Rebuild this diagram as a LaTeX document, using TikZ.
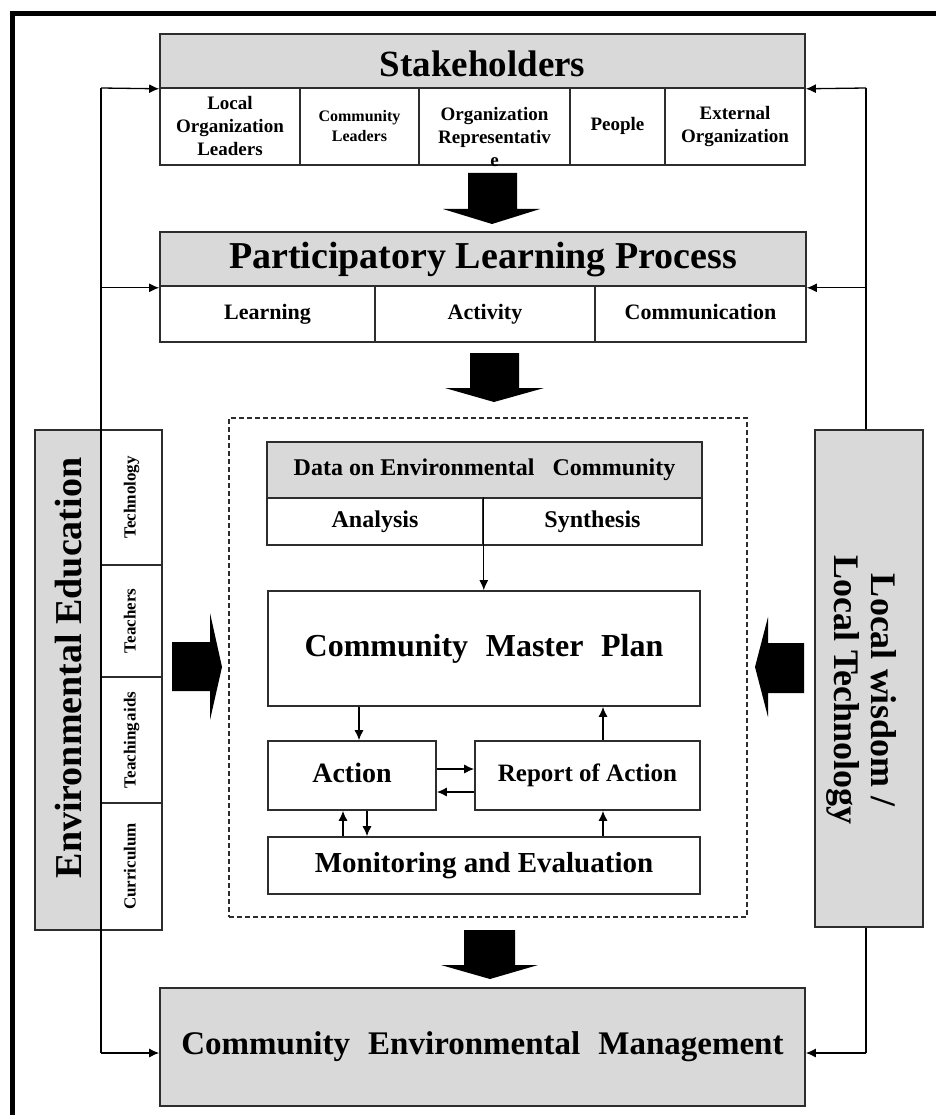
\documentclass[tikz,border=0pt]{standalone}
\usepackage{fontspec}
\setmainfont{Liberation Serif}
\usetikzlibrary{arrows.meta}
\definecolor{hdr}{RGB}{217,217,217}
\definecolor{edge}{RGB}{45,45,45}
\newcommand\myfs[2]{\fontsize{#1}{#2}\selectfont}
\begin{document}
\begin{tikzpicture}[x=1pt,y=-1pt,
  bx/.style={draw=edge, line width=1.6pt, inner sep=0pt, fill=white, font=\bfseries, align=center},
  gbx/.style={bx, fill=hdr},
  tb/.style={execute at begin node={\vphantom{Apgy}}},
  lbl/.style={inner sep=0pt, font=\bfseries, align=center},
  ln/.style={draw=black, line width=1.3pt},
  arr/.style={ln, -{Latex[length=10pt,width=9pt]}},
  blk/.style={fill=black}]
\useasboundingbox (0,0) rectangle (936,1115);
\fill[white] (0,0) rectangle (936,1115);
\draw[line width=5pt, line join=miter] (12,1115) -- (12,14) -- (936,14);

% Stakeholders
\node[gbx, minimum width=645pt, minimum height=54pt] (sh) at (482.5,61) {};
\node[lbl, anchor=base, font=\bfseries\myfs{37}{40}] (sht) at (482.5,77) {Stakeholders};
\node[bx, minimum width=140pt, minimum height=77pt, font=\bfseries\myfs{19}{23}] (s1) at (230,126.5) {Local\\Organization\\Leaders};
\node[bx, minimum width=119pt, minimum height=77pt, font=\bfseries\myfs{16}{20}] (s2) at (359.5,126.5) {Community\\Leaders};
\node[bx, minimum width=151pt, minimum height=77pt] (s3) at (494.5,126.5) {};
\node[lbl, font=\bfseries\myfs{19}{23}] (s3t) at (494.5,137) {Organization\\Representativ\\e};
\node[bx, tb, minimum width=95pt, minimum height=77pt, font=\bfseries\myfs{19}{23}] (s4) at (617.5,126.5) {People};
\node[bx, minimum width=140pt, minimum height=77pt, font=\bfseries\myfs{19}{23}] (s5) at (735,126.5) {External\\Organization};

% Participatory Learning Process
\node[gbx, tb, minimum width=646pt, minimum height=55pt, font=\bfseries\myfs{38}{42}] (plp) at (483,259.5) {Participatory Learning Process};
\node[bx, tb, minimum width=215pt, minimum height=56pt, font=\bfseries\myfs{22}{26}] (p1) at (267.5,314) {Learning};
\node[bx, tb, minimum width=220pt, minimum height=56pt, font=\bfseries\myfs{22}{26}] (p2) at (485,314) {Activity};
\node[bx, tb, minimum width=211pt, minimum height=56pt, font=\bfseries\myfs{22}{26}] (p3) at (700.5,314) {Communication};

% dashed frame
\node[draw=edge, line width=1.2pt, dash pattern=on 5pt off 3pt, minimum width=518pt, minimum height=499pt, inner sep=0pt] (dbox) at (488,667.5) {};

% inner boxes
\node[gbx, tb, minimum width=435pt, minimum height=56pt, font=\bfseries\myfs{24}{28}] (dh) at (484.5,470) {Data on Environmental\hspace{0.5em} Community};
\node[bx, tb, minimum width=216pt, minimum height=47pt, font=\bfseries\myfs{24}{28}] (da) at (375,521.5) {Analysis};
\node[bx, tb, minimum width=219pt, minimum height=47pt, font=\bfseries\myfs{24}{28}] (ds) at (592.5,521.5) {Synthesis};
\node[bx, tb, minimum width=432pt, minimum height=115pt, font=\bfseries\myfs{32}{36}] (cmp) at (484,648.5) {Community\hspace{0.3em} Master\hspace{0.3em} Plan};
\node[bx, tb, minimum width=168pt, minimum height=69pt, font=\bfseries\myfs{28}{32}] (act) at (352,775.5) {Action};
\node[bx, tb, minimum width=225pt, minimum height=69pt, font=\bfseries\myfs{25}{29}] (rep) at (587.5,775.5) {Report of Action};
\node[bx, tb, minimum width=432pt, minimum height=57pt, font=\bfseries\myfs{29}{33}] (mon) at (484,865.5) {Monitoring and Evaluation};

% inner arrows
\draw[arr] (da.north east) -- (da.north east |- cmp.north);
\coordinate (ca) at ([xshift=7pt]act.north);
\draw[arr] (ca |- cmp.south) -- (ca);
\coordinate (cr) at ([xshift=15.5pt]rep.north);
\draw[arr] (cr) -- (cr |- cmp.south);
\draw[arr] ([yshift=6.5pt]act.east) -- ([yshift=6.5pt]rep.west);
\draw[arr] ([yshift=-16.5pt]rep.west) -- ([yshift=-16.5pt]act.east);
\coordinate (m1) at ([xshift=-9pt]act.south);
\draw[arr] (m1 |- mon.north) -- (m1);
\coordinate (m2) at ([xshift=15pt]act.south);
\draw[arr] (m2) -- (m2 |- mon.north);
\coordinate (m3) at ([xshift=15.5pt]rep.south);
\draw[arr] (m3 |- mon.north) -- (m3);

% Environmental Education
\node[gbx, minimum width=66pt, minimum height=500pt] (ee) at (68,680) {};
\node[lbl, rotate=90, font=\bfseries\myfs{38}{42}] (eet) at (69,668) {Environmental Education};
\node[bx, minimum width=61pt, minimum height=135pt] (t1) at (131.5,497.5) {};
\node[bx, minimum width=61pt, minimum height=112pt] (t2) at (131.5,621) {};
\node[bx, minimum width=61pt, minimum height=126pt] (t3) at (131.5,740) {};
\node[bx, minimum width=61pt, minimum height=127pt] (t4) at (131.5,866.5) {};
\node[lbl, tb, rotate=90, font=\bfseries\myfs{17}{20}] (t1t) at (t1) {Technology};
\node[lbl, tb, rotate=90, font=\bfseries\myfs{17}{20}] (t2t) at (t2) {Teachers};
\node[lbl, tb, rotate=90, font=\bfseries\myfs{17}{20}] (t3t) at (t3) {Teaching\hspace{0.08em}aids};
\node[lbl, tb, rotate=90, font=\bfseries\myfs{17}{20}] (t4t) at (t4) {Curriculum};

% Local wisdom
\node[gbx, minimum width=108pt, minimum height=497pt] (lw) at (869,678.5) {};
\node[lbl, rotate=-90, font=\bfseries\myfs{36}{37}] (lwt) at (862,690) {Local wisdom /\\Local Technology};

% Community Environmental Management
\node[gbx, tb, minimum width=645pt, minimum height=118pt, font=\bfseries\myfs{33}{37}] (cem) at (482.5,1047) {Community\hspace{0.3em} Environmental\hspace{0.3em} Management};

% block arrows
\fill[blk] (468,173) -- (517,173) -- (517,209) -- (540,209) -- (492,224) -- (443,209) -- (468,209) -- cycle;
\fill[blk] (470,353) -- (519,353) -- (519,388) -- (544,388) -- (494,402) -- (445,388) -- (470,388) -- cycle;
\fill[blk] (464,930) -- (515,930) -- (515,965) -- (538,965) -- (490,979) -- (441,965) -- (464,965) -- cycle;
\fill[blk] (172,642) -- (210,642) -- (210,613) -- (222,667) -- (210,720) -- (210,691) -- (172,691) -- cycle;
\fill[blk] (804,643) -- (768,643) -- (768,617) -- (755,667) -- (768,717) -- (768,693) -- (804,693) -- cycle;

% feedback lines
\coordinate (Lt) at (101,88);
\coordinate (Lb) at (101,1053);
\coordinate (Rt) at (866,88);
\coordinate (Rb) at (866,1053);
\draw[ln] (Lt) -- (Lb);
\draw[arr] (Lt) -- (sh.south west);
\draw[arr] (Lt |- plp.south west) -- (plp.south west);
\draw[arr] (Lb) -- (Lb -| cem.west);
\draw[ln] (Rt) -- (Rt |- lw.north);
\draw[ln] (Rt |- lw.south) -- (Rb);
\draw[arr] (Rt) -- (sh.south east);
\draw[arr] (Rt |- plp.south east) -- (plp.south east);
\draw[arr] (Rb) -- (Rb -| cem.east);
\end{tikzpicture}
\end{document}
